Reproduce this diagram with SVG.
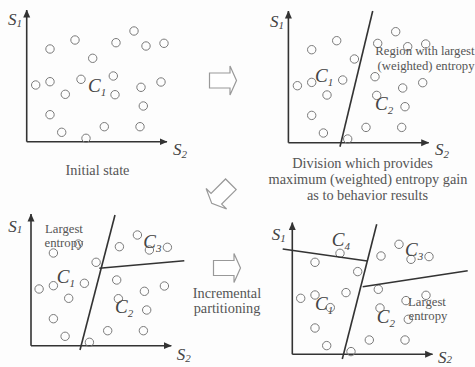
<svg xmlns="http://www.w3.org/2000/svg" xmlns:xlink="http://www.w3.org/1999/xlink" width="475" height="367" viewBox="0 0 475 367">
<style>
.dot{fill:none;stroke:#7a7a7a;stroke-width:1}
.ax{stroke:#333;stroke-width:1.6;fill:none}
.div{stroke:#333;stroke-width:1.6;fill:none}
.arr{fill:#fff;stroke:#999;stroke-width:1.2;stroke-linejoin:miter}
.s{font-family:"Liberation Serif",serif;font-style:italic;font-size:17px;fill:#444}
.c{font-family:"Liberation Serif",serif;font-style:italic;font-size:19px;fill:#444}
.sub{font-size:11px}
.t{font-family:"Liberation Serif",serif;font-size:14.3px;fill:#555}
.lt{font-family:"Liberation Serif",serif;font-size:12.7px;fill:#555}
</style>
<defs>
<marker id="ah" viewBox="0 0 8 8" refX="7.5" refY="4" markerWidth="8" markerHeight="8" markerUnits="userSpaceOnUse" orient="auto">
<path d="M0,0.5 L8,4 L0,7.5 Z" fill="#333"/>
</marker>
<g id="dots">
<circle class="dot" cx="50" cy="49" r="4.2"/>
<circle class="dot" cx="75" cy="40" r="4.2"/>
<circle class="dot" cx="92.7" cy="58.3" r="4.2"/>
<circle class="dot" cx="116" cy="42.7" r="4.2"/>
<circle class="dot" cx="134" cy="31" r="4.2"/>
<circle class="dot" cx="146" cy="46" r="4.2"/>
<circle class="dot" cx="164" cy="43.3" r="4.2"/>
<circle class="dot" cx="35.7" cy="85" r="4.2"/>
<circle class="dot" cx="50" cy="81.7" r="4.2"/>
<circle class="dot" cx="81" cy="79.3" r="4.2"/>
<circle class="dot" cx="113.3" cy="76" r="4.2"/>
<circle class="dot" cx="65.3" cy="94.3" r="4.2"/>
<circle class="dot" cx="115" cy="94.7" r="4.2"/>
<circle class="dot" cx="141" cy="87.3" r="4.2"/>
<circle class="dot" cx="161" cy="82" r="4.2"/>
<circle class="dot" cx="143.3" cy="106" r="4.2"/>
<circle class="dot" cx="50" cy="114.7" r="4.2"/>
<circle class="dot" cx="61.7" cy="132.3" r="4.2"/>
<circle class="dot" cx="86" cy="138.3" r="4.2"/>
<circle class="dot" cx="104.3" cy="126.7" r="4.2"/>
<circle class="dot" cx="140" cy="126.7" r="4.2"/>
</g>
<g id="axes">
<line class="ax" x1="26.7" y1="141.7" x2="26.7" y2="10" marker-end="url(#ah)"/>
<line class="ax" x1="26.7" y1="141.7" x2="167" y2="141.7" marker-end="url(#ah)"/>
</g>
<path id="bigarrow" d="M-13.5,-7.5 L7,-7.5 L7,-14.5 L13.5,0 L7,14.5 L7,7.5 L-13.5,7.5 Z"/>
</defs>
<rect width="475" height="367" fill="#fdfdfd"/>

<g id="panel-initial">
<use xlink:href="#axes"/>
<use xlink:href="#dots"/>
<text class="s" x="8" y="25">S<tspan class="sub" dy="2">1</tspan></text>
<text class="s" x="173" y="155">S<tspan class="sub" dy="2.5">2</tspan></text>
<text class="c" x="88" y="91.7">C<tspan class="sub" font-size="12" dy="4">1</tspan></text>
<text class="t" x="97.5" y="175" text-anchor="middle">Initial state</text>
</g>

<g id="panel-division">
<use xlink:href="#axes" transform="translate(261.7,1)"/>
<use xlink:href="#dots" transform="translate(261.7,0.7)"/>
<text class="s" x="270" y="26.7">S<tspan class="sub" dy="2">1</tspan></text>
<text class="s" x="435" y="155">S<tspan class="sub" dy="2.5">2</tspan></text>
<text class="c" x="315" y="81.7">C<tspan class="sub" font-size="12" dy="4">1</tspan></text>
<text class="c" x="375" y="110">C<tspan class="sub" font-size="12" dy="4">2</tspan></text>
<text class="lt" x="474.5" y="55" text-anchor="end" font-size="12.8">Region with largest</text>
<text class="lt" x="474.5" y="70" text-anchor="end" font-size="12.8">(weighted) entropy</text>
</g>

<g id="caption-division">
<text class="t" x="362.5" y="168.3" text-anchor="middle">Division which provides</text>
<text class="t" x="368" y="184" text-anchor="middle">maximum (weighted) entropy gain</text>
<text class="t" x="367.5" y="200" text-anchor="middle">as to behavior results</text>
</g>

<g id="panel-incremental">
<use xlink:href="#axes" transform="translate(4.3,204)"/>
<use xlink:href="#dots" transform="translate(3.4,204)"/>
<text class="s" x="8.3" y="231.7">S<tspan class="sub" dy="1.5">1</tspan></text>
<text class="s" x="176.7" y="360">S<tspan class="sub" dy="2">2</tspan></text>
<text class="c" x="56.7" y="283.3">C<tspan class="sub" font-size="12" dy="4">1</tspan></text>
<text class="c" x="115" y="313.3">C<tspan class="sub" font-size="12" dy="4">2</tspan></text>
<text class="c" x="143.3" y="248.3">C<tspan class="sub" font-size="12" dy="4">3</tspan></text>
<text class="lt" x="64" y="233.3" text-anchor="middle">Largest</text>
<text class="lt" x="64" y="246.7" text-anchor="middle">entropy</text>
</g>

<g id="caption-incremental">
<text class="t" x="227" y="298.3" text-anchor="middle">Incremental</text>
<text class="t" x="227" y="313.3" text-anchor="middle">partitioning</text>
</g>

<g id="panel-final">
<use xlink:href="#axes" transform="translate(265.6,212.6)"/>
<use xlink:href="#dots" transform="translate(265,213.3)"/>
<text class="s" x="271.7" y="240">S<tspan class="sub" dy="2">1</tspan></text>
<text class="s" x="438" y="362.5">S<tspan class="sub" dy="0">2</tspan></text>
<text class="c" x="331.7" y="246">C<tspan class="sub" font-size="12" dy="4">4</tspan></text>
<text class="c" x="405" y="256">C<tspan class="sub" font-size="12" dy="4">3</tspan></text>
<text class="c" x="315" y="310">C<tspan class="sub" font-size="12" dy="4">1</tspan></text>
<text class="c" x="376.7" y="322.7">C<tspan class="sub" font-size="12" dy="4">2</tspan></text>
<text class="lt" x="427" y="306" text-anchor="middle">Largest</text>
<text class="lt" x="428" y="320" text-anchor="middle">entropy</text>
</g>

<g id="connectors">
<line class="div" x1="340" y1="146.7" x2="372.7" y2="11"/>
<line class="div" x1="80" y1="350" x2="115" y2="215"/>
<line class="div" x1="99.3" y1="268.3" x2="184.3" y2="260.7"/>
<line class="div" x1="342.3" y1="359" x2="376.7" y2="224.3"/>
<line class="div" x1="282.7" y1="249" x2="367.3" y2="261"/>
<line class="div" x1="362.7" y1="286.7" x2="467.7" y2="270.7"/>
<use xlink:href="#bigarrow" class="arr" transform="translate(223,80.5)"/>
<use xlink:href="#bigarrow" class="arr" transform="translate(221.3,193.8) rotate(135)"/>
<use xlink:href="#bigarrow" class="arr" transform="translate(227,268)"/>
</g>
</svg>
